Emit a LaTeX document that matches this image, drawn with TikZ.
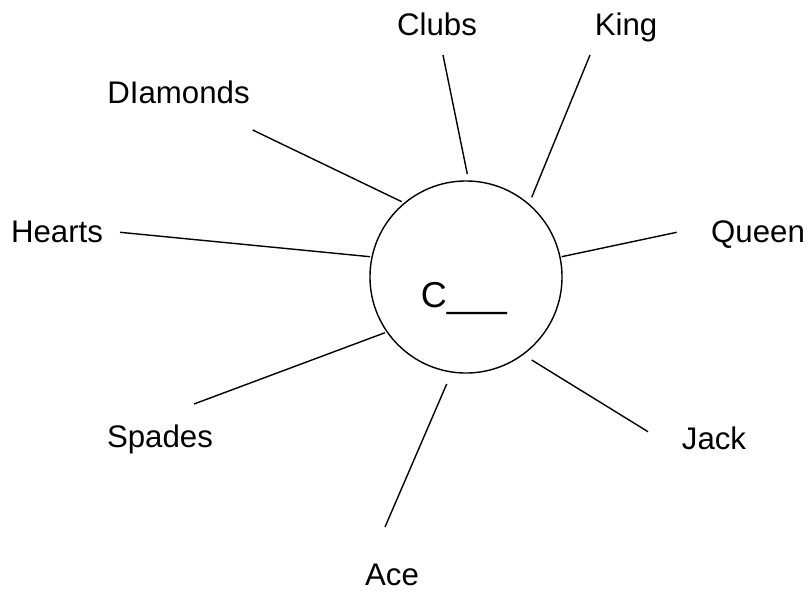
\documentclass[tikz,border=0pt]{standalone}
\usepackage{fontspec}
\setmainfont{Liberation Sans}
\usepackage{tikz}

\begin{document}
\begin{tikzpicture}[
  x=0.025cm, y=-0.025cm,
  hub/.style={circle, draw, line width=1pt, minimum size=4.8cm, inner sep=0pt},
  word/.style={anchor=base, inner sep=0pt, font=\fontsize{22.2}{26}\selectfont},
  spoke/.style={line width=1pt}
]
\useasboundingbox (0,0) rectangle (808,592);

\node[hub] (hub) at (466,277) {};
\node[anchor=base, inner sep=0pt, font=\fontsize{25.6}{30}\selectfont] (blank) at (464,307) {C\_\_\_};

\node[word] (clubs) at (437,35) {Clubs};
\node[word] (king) at (626,35) {King};
\node[word] (diamonds) at (178.5,103) {DIamonds};
\node[word] (hearts) at (57,242) {Hearts};
\node[word] (queen) at (758,242) {Queen};
\node[word] (spades) at (160,447) {Spades};
\node[word] (jack) at (714,449) {Jack};
\node[word] (ace) at (392,585) {Ace};

% free ends of the spokes
\coordinate (clubs-out) at (443,55);
\coordinate (clubs-in) at (467.3,174);
\coordinate (king-out) at (590,55);
\coordinate (king-in) at (531.7,197.3);
\coordinate (diamonds-out) at (252.7,130);
\coordinate (diamonds-in) at (401.7,201.7);
\coordinate (hearts-out) at (120,232.3);
\coordinate (hearts-in) at (370,256.7);
\coordinate (queen-out) at (676.7,232.3);
\coordinate (queen-in) at (561.7,256.7);
\coordinate (spades-out) at (194,404);
\coordinate (spades-in) at (385,332.7);
\coordinate (jack-out) at (648,431.7);
\coordinate (jack-in) at (531.7,360);
\coordinate (ace-out) at (385,527);
\coordinate (ace-in) at (446.7,384);

\draw[spoke] (clubs-out) -- (clubs-in);
\draw[spoke] (king-out) -- (king-in);
\draw[spoke] (diamonds-out) -- (diamonds-in);
\draw[spoke] (hearts-out) -- (hearts-in);
\draw[spoke] (queen-out) -- (queen-in);
\draw[spoke] (spades-out) -- (spades-in);
\draw[spoke] (jack-out) -- (jack-in);
\draw[spoke] (ace-out) -- (ace-in);

\end{tikzpicture}
\end{document}
